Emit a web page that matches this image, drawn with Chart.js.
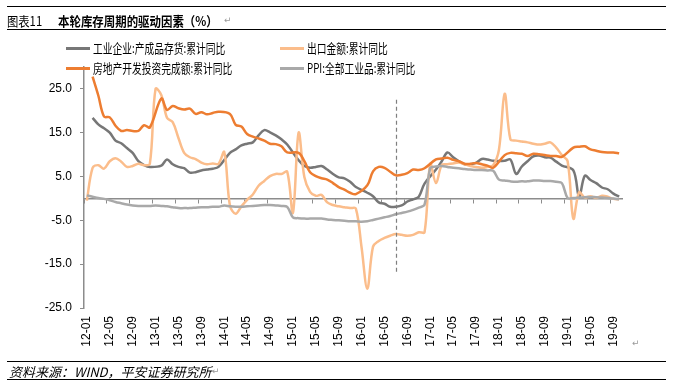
<!DOCTYPE html>
<html>
<head>
<meta charset="utf-8">
<script src="https://cdn.jsdelivr.net/npm/chart.js@4.4.1/dist/chart.umd.min.js"></script>
<style>
  body { margin: 0; background: #fff; }
  #wrap { position: relative; width: 673px; height: 387px; overflow: hidden; font-family: "Noto Sans CJK SC", sans-serif; color: #000; }
  canvas { position: absolute; left: 0; top: 0; }
  .rule { position: absolute; left: 7px; width: 659px; height: 0; border-top: 1px solid #000; }
  .txt { position: absolute; white-space: nowrap; transform-origin: left center; }
  .ret { position: absolute; font-family: "DejaVu Sans", sans-serif; font-size: 9px; color: #999; }
  .lg { position: absolute; height: 16px; line-height: 16px; white-space: nowrap; }
  .lg i { position: absolute; left: 0; top: 7px; width: 24px; height: 3px; }
  .lg span { position: absolute; left: 27px; top: 0; font-size: 13px; transform: scaleX(0.75); transform-origin: left center; }
</style>
</head>
<body>
<div id="wrap">
  <canvas id="chart" width="673" height="387"></canvas>
  <div class="rule" style="top:6px"></div>
  <div class="txt" style="left:7px;top:12px;font-size:13px;line-height:17px;transform:scaleX(0.87)">图表11</div>
  <div class="txt" style="left:58px;top:12px;font-size:13px;line-height:17px;font-weight:bold;transform:scaleX(0.88)">本轮库存周期的驱动因素（%）</div>
  <div class="ret" style="left:224px;top:15px">↵</div>
  <div class="rule" style="top:29px"></div>
  <div id="legend"></div>
  <div class="ret" style="left:632px;top:338px">↵</div>
  <div class="rule" style="top:361px"></div>
  <div class="txt" style="left:9px;top:363px;font-size:13px;line-height:17px;font-style:italic">资料来源：WIND，平安证券研究所</div>
  <div class="ret" style="left:212px;top:366px">↵</div>
  <div class="rule" style="top:379px"></div>
</div>
<script>
// months 12-01 .. 19-10
const years = ['12', '13', '14', '15', '16', '17', '18', '19'];
const months = ['01', '02', '03', '04', '05', '06', '07', '08', '09', '10', '11', '12'];
const lastMonth = '19-10';
const labels = [];
years.forEach(y => months.forEach(m => {
    const l = y + '-' + m;
    if (l <= lastMonth) labels.push(l);
}));

// 工业企业:产成品存货:累计同比 (no January value)
const inventory = [
    null, 18.4, 16.9, 16.0, 15.0, 13.2, 12.6, 11.5, 10.4, 8.5, 7.6, 7.2,
    null, 7.5, 8.9, 7.8, 7.2, 6.9, 5.9, 6.0, 6.4, 6.6, 6.8, 7.2,
    null, 10.4, 11.2, 12.1, 12.5, 12.8, 14.4, 15.6, 15.1, 14.4, 13.5, 12.3,
    null, 8.7, 7.4, 7.0, 7.2, 7.4, 6.6, 5.6, 4.8, 4.6, 3.8, 2.6,
    null, 1.3, 0.5, -0.9, -1.2, -1.9, -1.9, -1.6, -0.7, -0.2, 0.4, 3.4,
    null, 6.6, 8.5, 10.5, 9.4, 8.5, 7.8, 7.8, 8.1, 9.0, 8.9, 8.6,
    null, 8.6, 8.9, 5.6, 7.3, 8.5, 9.6, 9.8, 9.4, 9.3, 8.4, 7.5,
    null, 6.4, 0.4, 5.2, 4.2, 3.5, 2.5, 2.1, 1.1, 0.4
];

// 出口金额:累计同比
const exports = [
    -0.5, 7.0, 7.6, 6.8, 8.5, 9.2, 8.4, 7.2, 7.4, 7.9, 7.6, 7.9,
    25.0, 23.6, 18.4, 17.4, 13.8, 10.4, 9.4, 9.0, 8.2, 7.8, 8.0, 7.9,
    10.6, -1.6, -3.5, -1.8, -0.3, 0.9, 2.9, 4.0, 5.1, 5.6, 5.6, 6.1,
    -3.3, 15.0, 4.9, 1.5, 0.6, 0.8, -0.9, -1.5, -1.8, -2.0, -2.2, -2.3,
    -11.2, -20.6, -11.0, -9.7, -9.0, -8.5, -8.1, -8.3, -8.5, -8.3, -7.7, -7.7,
    7.9, 3.5, 7.6, 7.8, 8.0, 8.2, 7.8, 7.4, 7.2, 7.0, 7.2, 7.6,
    11.1, 23.9, 13.5, 13.2, 13.0, 12.8, 12.5, 12.3, 12.5, 12.8, 11.6, 9.9,
    8.5, -4.6, 1.4, 0.2, 0.5, 0.1, 0.6, 0.4, -0.1, -0.2
];

// 房地产开发投资完成额:累计同比 (no January value)
const realEstate = [
    null, 27.8, 23.5, 18.7, 18.5, 16.6, 15.4, 15.6, 15.4, 15.4, 16.7, 16.2,
    null, 22.8, 20.2, 21.1, 20.6, 20.3, 20.5, 19.3, 19.7, 19.2, 19.5, 19.8,
    null, 19.3, 16.8, 16.4, 14.7, 14.1, 13.7, 13.2, 12.5, 12.4, 11.9, 10.5,
    null, 10.4, 8.5, 6.0, 5.1, 4.6, 4.3, 3.5, 2.6, 2.0, 1.3, 1.0,
    null, 3.0, 6.2, 7.2, 7.0, 6.1, 5.3, 5.4, 5.8, 6.6, 6.5, 6.9,
    null, 8.9, 9.1, 9.3, 8.8, 8.5, 7.9, 7.9, 8.1, 7.8, 7.5, 7.0,
    null, 9.9, 10.4, 10.3, 10.2, 9.7, 10.2, 10.1, 9.9, 9.7, 9.7, 9.5,
    null, 11.6, 11.8, 11.9, 11.2, 10.9, 10.6, 10.5, 10.5, 10.3
];

// PPI:全部工业品:累计同比
const ppi = [
    0.7, 0.4, 0.1, -0.1, -0.4, -0.8, -1.1, -1.4, -1.6, -1.7, -1.7, -1.7,
    -1.6, -1.7, -1.8, -2.0, -2.2, -2.2, -2.2, -2.1, -2.0, -2.0, -1.9, -1.9,
    -1.6, -1.8, -1.9, -1.9, -1.8, -1.7, -1.6, -1.5, -1.5, -1.6, -1.7, -1.9,
    -4.3, -4.5, -4.6, -4.6, -4.6, -4.6, -4.8, -4.9, -5.0, -5.1, -5.2, -5.2,
    -5.3, -5.2, -4.9, -4.6, -4.3, -4.0, -3.6, -3.3, -3.0, -2.6, -2.1, -1.4,
    6.9, 7.3, 7.4, 7.2, 7.0, 6.9, 6.7, 6.6, 6.5, 6.5, 6.4, 6.3,
    4.3, 4.1, 3.9, 3.8, 3.9, 3.9, 4.1, 4.1, 4.0, 4.0, 3.8, 3.5,
    0.1, 0.1, 0.2, 0.3, 0.3, 0.3, 0.2, 0.1, 0.0, -0.2
];

const seriesNames = ['工业企业:产成品存货:累计同比', '出口金额:累计同比', '房地产开发投资完成额:累计同比', 'PPI:全部工业品:累计同比'];
const seriesData = [inventory, exports, realEstate, ppi];
const seriesColors = ['#777777', '#fbbd8b', '#ed7d31', '#a9a9a9'];

const yTicks = [-25, -15, -5, 5, 15, 25];
const markerMonth = '16-07';
const markerTop = 22.5;
const markerBottom = -16.7;

// legend in two columns, like the original
const legendPos = [[66, 40], [280, 40], [66, 60], [280, 60]];
const legendBox = document.getElementById('legend');
seriesNames.forEach((name, i) => {
    const el = document.createElement('div');
    el.className = 'lg';
    el.style.left = legendPos[i][0] + 'px';
    el.style.top = legendPos[i][1] + 'px';
    el.innerHTML = `<i style="background:${seriesColors[i]}"></i><span>${name}</span>`;
    legendBox.appendChild(el);
});

const markerLine = {
    id: 'markerLine',
    afterDatasetsDraw(chart) {
        const { ctx, scales } = chart;
        const x = Math.round(scales.x.getPixelForValue(labels.indexOf(markerMonth))) + 0.5;
        ctx.save();
        ctx.strokeStyle = '#7f7f7f';
        ctx.lineWidth = 1.2;
        ctx.setLineDash([4, 3]);
        ctx.beginPath();
        ctx.moveTo(x, scales.y.getPixelForValue(markerTop));
        ctx.lineTo(x, scales.y.getPixelForValue(markerBottom));
        ctx.stroke();
        ctx.restore();
    }
};

const axisGray = '#8c8c8c';
const tickFont = { family: 'Liberation Sans', size: 12 };

new Chart(document.getElementById('chart'), {
    type: 'line',
    data: {
        labels: labels,
        datasets: seriesNames.map((name, i) => ({
            label: name,
            data: seriesData[i],
            borderColor: seriesColors[i],
            backgroundColor: seriesColors[i],
            borderWidth: 2.5,
            pointRadius: 0,
            tension: 0.35,
            spanGaps: true,
            fill: false,
            order: 4 - i
        }))
    },
    options: {
        responsive: false,
        animation: false,
        layout: { padding: { left: 0, right: 51, top: 67, bottom: 39 } },
        plugins: {
            legend: { display: false },
            tooltip: { enabled: false }
        },
        scales: {
            x: {
                type: 'category',
                offset: true,
                border: { display: false },
                grid: { display: false, drawTicks: false },
                ticks: {
                    autoSkip: false,
                    minRotation: 90,
                    maxRotation: 90,
                    padding: 8,
                    color: '#000',
                    font: tickFont,
                    callback: function(value, index) {
                        return index % 4 === 0 ? this.getLabelForValue(value) : '';
                    }
                },
                afterFit: function(scale) { scale.height = 40; }
            },
            x2: {
                type: 'category',
                position: { y: 0 },
                offset: true,
                ticks: { display: false },
                border: { color: axisGray, width: 1.5 },
                grid: {
                    offset: true,
                    drawOnChartArea: false,
                    drawTicks: true,
                    tickLength: 4,
                    color: ctx => ctx.index % 4 === 0 ? axisGray : 'rgba(0,0,0,0)'
                }
            },
            y: {
                min: -25,
                max: 30,
                border: { color: axisGray, width: 1.5 },
                grid: { drawOnChartArea: false, drawTicks: true, tickLength: 4, color: axisGray },
                afterBuildTicks: function(scale) {
                    scale.ticks = yTicks.map(v => ({ value: v }));
                },
                ticks: {
                    padding: 8,
                    color: '#000',
                    font: tickFont,
                    callback: v => v.toFixed(1)
                },
                afterFit: function(scale) { scale.width = 84; }
            }
        }
    },
    plugins: [markerLine]
});
</script>
</body>
</html>
